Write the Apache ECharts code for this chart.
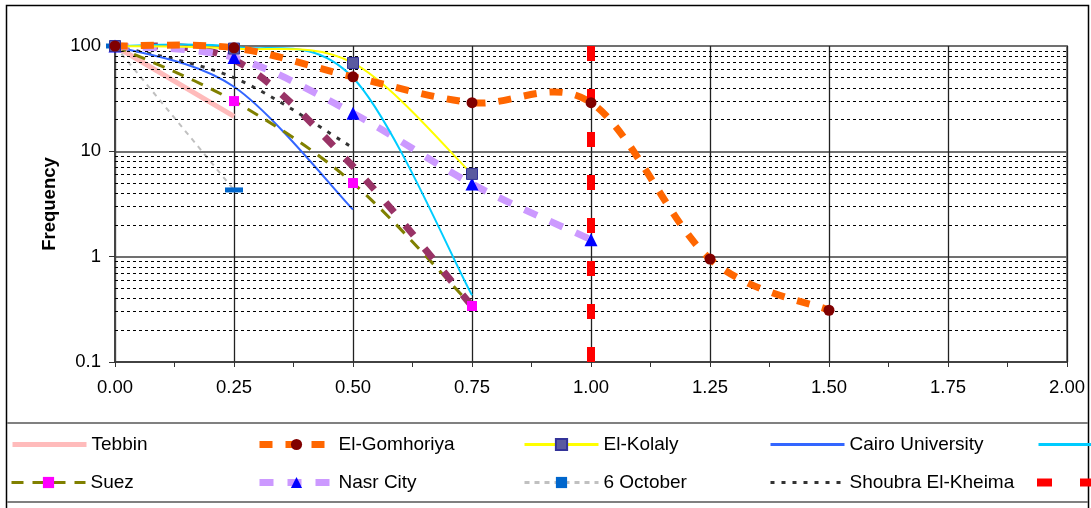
<!DOCTYPE html>
<html><head><meta charset="utf-8">
<script src="https://cdn.jsdelivr.net/npm/echarts@6/dist/echarts.min.js"></script>
<style>html,body{margin:0;padding:0;background:#fff}#c{width:1091px;height:508px}</style>
</head><body><div id="c"></div>
<script>
// ---- data ----
const xValues = [0, 0.25, 0.5, 0.75, 1.0, 1.25, 1.5];
const tebbin = [100, 21.5];
const elGomhoriya = [100, 96, 51, 29, 29, 0.95, 0.31];
const elKolaly = [100, 94.5, 69, 6.1];
const cairoUniversity = [100, 41, 2.8];
const helwan = [100, 98, 50, 0.43];
const suez = [100, 30, 5, 0.34];
const nasrCity = [100, 77.6, 23, 4.9, 1.45];
const sixOctober = [100, 4.3];
const shoubra = [100, 50, 10.8];
const giza = [100, 74, 7.2, 0.34];
const limitX = [1.0, 1.0];
const limitY = [100, 0.1];
const minorGrid = [0.2,0.3,0.4,0.5,0.6,0.7,0.8,0.9,2,3,4,5,6,7,8,9,20,30,40,50,60,70,80,90];

const FONT = "'Liberation Sans', Arial, sans-serif";
const pts = vals => vals.map((v, i) => [xValues[i], v]);

// Excel-style smoothed path (Bezier with 1/6 neighbour tangents), built from pixel coords
function excelPath(c) {
  let d = 'M' + c[0][0] + ',' + c[0][1];
  for (let i = 0; i < c.length - 1; i++) {
    const p0 = c[i - 1] || c[i], p1 = c[i], p2 = c[i + 1], p3 = c[i + 2] || c[i + 1];
    const c1 = [p1[0] + (p2[0] - p0[0]) / 6, p1[1] + (p2[1] - p0[1]) / 6];
    const c2 = [p2[0] - (p3[0] - p1[0]) / 6, p2[1] - (p3[1] - p1[1]) / 6];
    d += ' C' + c1[0] + ',' + c1[1] + ' ' + c2[0] + ',' + c2[1] + ' ' + p2[0] + ',' + p2[1];
  }
  return d;
}

function curveSeries(name, vals, color, width, dash, z) {
  const data = pts(vals);
  return {
    name: name + ' (curve)', type: 'custom', data, z, silent: true, clip: false, animation: false,
    renderItem: (params, api) => {
      if (params.dataIndex !== 0) return null;
      const coords = data.map(p => api.coord(p));
      return { type: 'path', shape: { pathData: excelPath(coords) },
        style: { fill: 'none', stroke: color, lineWidth: width, lineDash: dash || null, lineCap: 'butt' } };
    }
  };
}

function lineSeries(name, data, o) {
  return {
    name, type: 'line', data, smooth: false,
    symbol: o.symbol || 'none', symbolSize: o.symbolSize || 10,
    showSymbol: !!o.symbol,
    lineStyle: { color: o.line, width: o.width, type: o.dash || 'solid', cap: 'butt', opacity: o.hideLine ? 0 : 1 },
    itemStyle: { color: o.marker || o.line, borderColor: o.markerBorder || o.marker || o.line, borderWidth: o.markerBorder ? 1 : 0 },
    z: o.z || 3, silent: true, animation: false
  };
}

// smoothed series: curve drawn via custom series, markers + legend via line series
const smoothDefs = [
  { name: 'Shoubra El-Kheima', vals: shoubra, line: '#333333', width: 3, dash: [4, 7], z: 4 },
  { name: 'Cairo University', vals: cairoUniversity, line: '#3366FF', width: 2, z: 4 },
  { name: 'Suez', vals: suez, line: '#808000', width: 3, dash: [12, 9], symbol: 'rect', symbolSize: 10, marker: '#FF00FF', z: 5 },
  { name: 'Giza', vals: giza, line: '#993366', width: 7, dash: [13, 17], z: 5 },
  { name: 'Nasr City', vals: nasrCity, line: '#CC99FF', width: 7, dash: [14, 14], symbol: 'triangle', symbolSize: 13, marker: '#0000FF', z: 6 },
  { name: 'Helwan', vals: helwan, line: '#00CCFF', width: 2, z: 6 },
  { name: 'El-Kolaly', vals: elKolaly, line: '#FFFF00', width: 2, symbol: 'rect', symbolSize: 11, marker: '#5A5AA0', markerBorder: '#333399', z: 7 },
  { name: 'El-Gomhoriya', vals: elGomhoriya, line: '#FF6600', width: 7, dash: [13, 13], symbol: 'circle', symbolSize: 11, marker: '#800000', z: 7 }
];

const series = [
  { name: 'grid-minor', type: 'line', data: [], silent: true, z: 1,
    markLine: { silent: true, symbol: 'none', animation: false, label: { show: false },
      lineStyle: { color: '#000', width: 1, type: [3, 3] },
      data: minorGrid.map(v => ({ yAxis: v })) } },
  lineSeries('Tebbin', pts(tebbin), { line: '#FFBBBB', width: 5, z: 3 }),
  lineSeries('6 October', pts(sixOctober), { line: '#C0C0C0', width: 2, dash: [5, 5], symbol: 'rect', symbolSize: [18, 5], marker: '#0066CC', z: 3 })
];
smoothDefs.forEach(d => {
  series.push(curveSeries(d.name, d.vals, d.line, d.width, d.dash, d.z));
});
smoothDefs.forEach(d => {
  series.push(lineSeries(d.name, pts(d.vals), Object.assign({}, d, { hideLine: true, z: 10 })));
});
series.push(lineSeries('Threshold', limitX.map((x, i) => [x, limitY[i]]), { line: '#FF0000', width: 8, dash: [15, 28], z: 8 }));

const legendItems = [
  { name: 'Tebbin', left: 10, top: 435, w: 5, sym: false },
  { name: 'El-Gomhoriya', left: 256, top: 435, w: 7, sym: true },
  { name: 'El-Kolaly', left: 523, top: 435, w: 3, sym: true },
  { name: 'Cairo University', left: 769, top: 435, w: 3, sym: false },
  { name: 'Helwan', left: 1037, top: 435, w: 3, sym: false },
  { name: 'Suez', left: 10, top: 473, w: 3, sym: true },
  { name: 'Nasr City', left: 256, top: 473, w: 7, sym: true },
  { name: '6 October', left: 523, top: 473, w: 3, sym: true },
  { name: 'Shoubra El-Kheima', left: 769, top: 473, w: 3, sym: false },
  { name: 'Threshold', left: 1033, top: 473, w: 8, sym: false }
];

const legends = legendItems.map(it => ({
  data: [it.name], left: it.left, top: it.top, padding: 0, itemWidth: 74, itemHeight: 14,
  selectedMode: false, textStyle: { fontSize: 19, color: '#000', fontFamily: FONT },
  lineStyle: { width: it.w, opacity: 1 },
  itemStyle: it.sym ? {} : { opacity: 0 }
}));

const option = {
  backgroundColor: '#fff', animation: false,
  textStyle: { fontFamily: FONT },
  grid: { left: 115, right: 24, top: 46, bottom: 146, show: true, borderColor: '#808080', borderWidth: 2 },
  legend: legends,
  xAxis: {
    type: 'value', min: 0, max: 2, interval: 0.25,
    axisLine: { show: true, onZero: false, lineStyle: { color: '#333', width: 1.5 } },
    axisTick: { show: true, length: 5, lineStyle: { color: '#333' } },
    minorTick: { show: true, splitNumber: 2, length: 5, lineStyle: { color: '#333' } },
    axisLabel: { formatter: v => v.toFixed(2), fontSize: 18.5, color: '#000', margin: 16, fontFamily: FONT },
    splitLine: { show: true, lineStyle: { color: '#222', width: 1.3 } }
  },
  yAxis: {
    type: 'log', logBase: 10, min: 0.1, max: 100,
    name: 'Frequency', nameLocation: 'middle', nameGap: 47,
    nameTextStyle: { fontSize: 18.5, fontWeight: 'bold', color: '#000', fontFamily: FONT },
    axisLine: { show: true, lineStyle: { color: '#444', width: 2 } },
    axisTick: { show: true, length: 6, lineStyle: { color: '#333' } },
    axisLabel: { fontSize: 18.5, color: '#000', margin: 14, fontFamily: FONT,
      formatter: v => String(+v.toPrecision(3)) },
    splitLine: { show: true, lineStyle: { color: '#707070', width: 2 } }
  },
  graphic: [
    { type: 'rect', silent: true, shape: { x: 6.5, y: 5.5, width: 1082, height: 520 }, style: { fill: 'none', stroke: '#000', lineWidth: 1.5 }, z: -1 },
    { type: 'line', silent: true, shape: { x1: 7, y1: 423, x2: 1088, y2: 423 }, style: { stroke: '#808080', lineWidth: 2 } },
    { type: 'line', silent: true, shape: { x1: 7, y1: 502, x2: 1088, y2: 502 }, style: { stroke: '#808080', lineWidth: 2 } }
  ],
  series
};

const chart = echarts.init(document.getElementById('c'), null, { renderer: 'canvas' });
chart.setOption(option);
</script></body></html>
